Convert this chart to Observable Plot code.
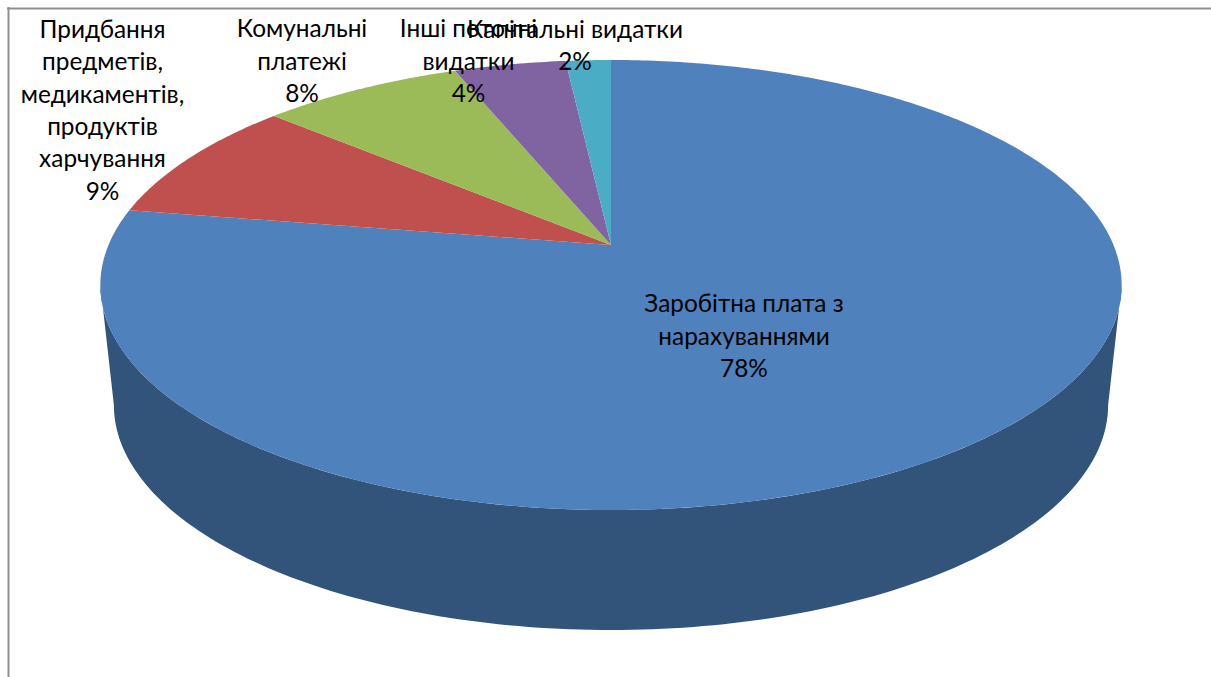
<!DOCTYPE html>
<html lang="uk">
<head>
<meta charset="utf-8">
<style>
html,body{margin:0;padding:0;background:#fff;overflow:hidden}
svg{display:block}
</style>
<script src="https://cdn.jsdelivr.net/npm/d3@7"></script>
<script src="https://cdn.jsdelivr.net/npm/@observablehq/plot@0.6"></script>
</head>
<body>
<div id="chart"></div>
<script>
// Data
const categories = [
  "Заробітна плата з\nнарахуваннями",
  "Придбання\nпредметів,\nмедикаментів,\nпродуктів\nхарчування",
  "Комунальні\nплатежі",
  "Інші поточні\nвидатки",
  "Капітальні видатки"
];
const shares = [77.7, 8.9, 7.6, 4.2, 1.7];
const percentLabels = ["78%", "9%", "8%", "4%", "2%"];
const sliceColors = ["#4F81BD", "#C0504D", "#9BBB59", "#8064A2", "#4BACC6"];

// Layout
const W = 1211, H = 677;
const labelCenterX = [743.5, 102, 301.5, 468, 574.5];
const labelCenterY = [334, 108, 59, 59, 43];
const tilt = 0.1778;

// Perspective view of the pie disc: angle measured clockwise from the back
function rim(theta, {halfWidth = 502.5, drop = 0} = {}) {
  const u = Math.sin(theta), v = Math.cos(theta), w = 1 + tilt * v;
  return {x: 611 + halfWidth * u / w, y: (245 - 174.33 * v) / w + drop};
}

const arcs = d3.pie().sort(null).value(d => d)(shares);
const fan = arcs.flatMap((a, i) => {
  const n = Math.max(8, Math.ceil((a.endAngle - a.startAngle) * 80));
  return d3.range(n + 1).map(k => {
    const p = rim(a.startAngle + (a.endAngle - a.startAngle) * k / n);
    return {name: categories[i], x: p.x, y: p.y};
  });
});
const apex = {x: 611, y: 245};

// Wall: the front rim of the top face joined to the rim of the lower face
const wallSteps = d3.range(0, 161).map(k => {
  // walks the front half, from the rightmost point of the disc to the leftmost
  const t0 = Math.PI - Math.acos(tilt);
  return t0 + (2 * Math.PI - 2 * t0) * k / 160;
});
const wall = wallSteps.map(t => {
  const a = rim(t), b = rim(t, {halfWidth: 489.2, drop: 120});
  return {x1: a.x, y1: a.y, x2: b.x, y2: b.y};
});

const chart = Plot.plot({
  width: W, height: H,
  margin: 0,
  style: {background: "#fff"},
  x: {domain: [0, W], range: [0, W], axis: null},
  y: {domain: [0, H], range: [0, H], axis: null},
  color: {domain: categories, range: sliceColors},
  marks: [
    Plot.ruleY([8], {x1: 7, x2: W, stroke: "#8f8f8f", strokeWidth: 2}),
    Plot.ruleX([8], {y1: 7, y2: H, stroke: "#8f8f8f", strokeWidth: 2}),
    Plot.area(wall, {x1: "x1", y1: "y1", x2: "x2", y2: "y2", fill: "#32547B"}),
    Plot.area(fan, {
      x1: () => apex.x, y1: () => apex.y,
      x2: "x", y2: "y",
      fill: "name", z: "name"
    }),
    Plot.text(categories.map((c, i) => ({t: c + "\n" + percentLabels[i], x: labelCenterX[i], y: labelCenterY[i]})), {
      x: "x", y: "y", text: "t",
      textAnchor: "middle", lineAnchor: "middle",
      fontFamily: "Lato, 'Noto Sans', sans-serif",
      fontSize: 24.4, lineHeight: 1.328, fill: "#000"
    })
  ]
});
document.getElementById("chart").append(chart);
</script>
</body>
</html>
